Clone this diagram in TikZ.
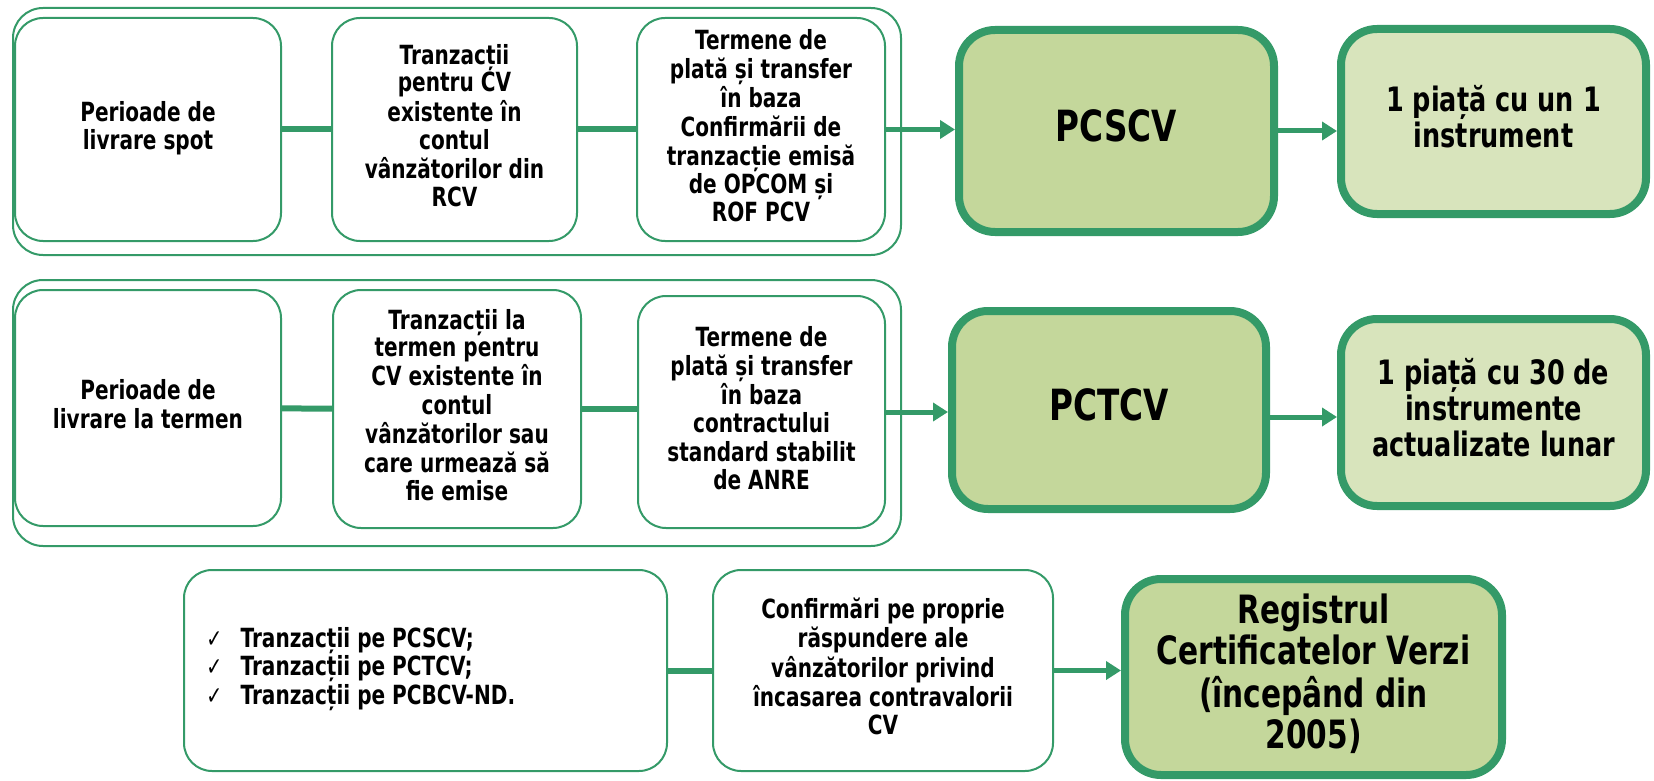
\documentclass[tikz,border=0pt]{standalone}
\usepackage{fontspec}
\usepackage{graphicx}
\setmainfont{DejaVu Sans}
\usetikzlibrary{arrows.meta}
\definecolor{gline}{RGB}{52,154,104}
\definecolor{gdark}{RGB}{196,215,155}
\definecolor{glight}{RGB}{216,228,188}
\newcommand{\sqf}{0.76}
\newcommand{\sq}[1]{\scalebox{\sqf}[1]{\begin{tabular}{@{}c@{}}#1\end{tabular}}}
\newcommand{\sql}[1]{\scalebox{\sqf}[1]{\begin{tabular}{@{}l@{}}#1\end{tabular}}}
\newcommand{\ckmk}{\makebox[22.5pt][l]{\mdseries\fontsize{12.5}{12}\selectfont ✓}}
\begin{document}
\begin{tikzpicture}[x=0.5pt,y=-0.5pt,
  frame/.style={draw=gline, line width=1pt, rounded corners=15pt, inner sep=0pt},
  thinbox/.style={draw=gline, line width=1pt, rounded corners=14pt, fill=white, inner sep=0pt, align=center, font=\bfseries\fontsize{13.2}{13.7}\selectfont},
  hubbox/.style={draw=gline, line width=4pt, rounded corners=18pt, fill=gdark, inner sep=0pt, align=center, font=\bfseries\fontsize{21.5}{26}\selectfont},
  resbox/.style={draw=gline, line width=4pt, rounded corners=18pt, fill=glight, inner sep=0pt, align=center, font=\bfseries\fontsize{16.8}{17.4}\selectfont},
  link/.style={draw=gline, line width=3pt},
  flow/.style={draw=gline, line width=2.5pt, -{Triangle[length=7.5pt,width=9pt]}},
]
\useasboundingbox (0,0) rectangle (1654,781);

% Row 1
\node[frame, minimum width=444pt, minimum height=123.5pt] (f1) at (457,131.5) {};
\node[thinbox, minimum width=133pt, minimum height=111.5pt] (a1) at (148,129.5) {\sq{Perioade de\\livrare spot}};
\node[thinbox, minimum width=122.5pt, minimum height=111.5pt] (a2) at (454.5,129.5) {\sq{Tranzacții\\pentru CV\\existente în\\contul\\vânzătorilor din\\RCV}};
\node[thinbox, minimum width=124pt, minimum height=111.5pt] (a3) at (761,129.5) {\sq{Termene de\\plată și transfer\\în baza\\Confirmării de\\tranzacție emisă\\de OPCOM și\\ROF PCV}};
\node[hubbox, minimum width=157.5pt, minimum height=101pt] (h1) at (1116.5,131) {\sq{PCSCV}};
\node[resbox, minimum width=152.5pt, minimum height=92.5pt] (r1) at (1493.5,121.5) {\sq{1 piață cu un 1\\instrument}};
\draw[link] (a1) -- (a2);
\draw[link] (a2) -- (a3);
\draw[flow] (a3.east) -- (a3.east -| h1.west);
\draw[flow] (h1.east) -- (h1.east -| r1.west);

% Row 2
\node[frame, minimum width=444pt, minimum height=133pt] (f2) at (457,413) {};
\node[thinbox, minimum width=133pt, minimum height=118pt] (b1) at (148,408) {\sq{Perioade de\\livrare la termen}};
\node[thinbox, minimum width=124pt, minimum height=119pt] (b2) at (457,409) {\sq{Tranzacții la\\termen pentru\\CV existente în\\contul\\vânzătorilor sau\\care urmează să\\fie emise}};
\node[thinbox, minimum width=123.5pt, minimum height=116pt] (b3) at (761.5,412) {\sq{Termene de\\plată și transfer\\în baza\\contractului\\standard stabilit\\de ANRE}};
\node[hubbox, minimum width=157pt, minimum height=99pt] (h2) at (1109,410) {\sq{PCTCV}};
\node[resbox, minimum width=152.5pt, minimum height=93.5pt] (r2) at (1493.5,412.5) {\sq{1 piață cu 30 de\\instrumente\\actualizate lunar}};
\draw[link] (b1) -- (b2);
\draw[link] (b2.east) -- (b2.east -| b3.west);
\draw[flow] (b3.east) -- (b3.east -| h2.west);
\draw[flow] ([yshift=-3.5pt]h2.east) -- ([yshift=-3.5pt]h2.east -| r2.west);

% Row 3
\node[thinbox, minimum width=241.5pt, minimum height=100.5pt] (c1) at (425.5,670.5) {};
\node[anchor=west, inner sep=0pt, font=\bfseries\fontsize{13.2}{13.9}\selectfont] (c1t) at (206,670)
  {\sql{\ckmk Tranzacții pe PCSCV;\\\ckmk Tranzacții pe PCTCV;\\\ckmk Tranzacții pe PCBCV-ND.}};
\node[thinbox, font=\bfseries\fontsize{13.2}{13.9}\selectfont, minimum width=170pt, minimum height=100.5pt] (c2) at (883,670.5) {\sq{Confirmări pe proprie\\răspundere ale\\vânzătorilor privind\\încasarea contravalorii\\CV}};
\node[hubbox, font=\bfseries\fontsize{19.5}{19}\selectfont, minimum width=188.5pt, minimum height=98pt] (reg) at (1313.5,677) {\sq{Registrul\\Certificatelor Verzi\\(începând din\\2005)}};
\draw[link] (c1) -- (c2);
\draw[flow] (c2.east) -- (c2.east -| reg.west);
\end{tikzpicture}
\end{document}
